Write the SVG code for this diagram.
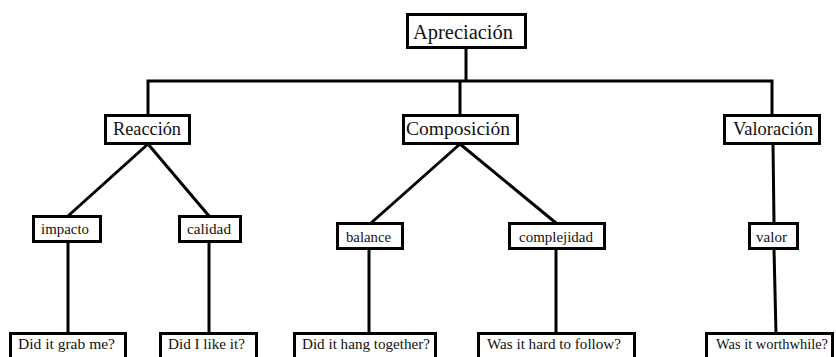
<svg xmlns="http://www.w3.org/2000/svg" width="836" height="357" viewBox="0 0 836 357" font-family="'Liberation Serif', 'DejaVu Serif', serif">
<style>
  .box { fill: #ffffff; stroke: #000000; stroke-width: 3; }
  .edge { fill: none; stroke: #000000; stroke-width: 3; stroke-linejoin: miter; }
  .lbl { font-family: 'Liberation Serif', 'DejaVu Serif', serif; fill: #111111; }
  .t1 { font-size: 20px; }
  .t2 { font-size: 18px; }
  .t3 { font-size: 15px; }
  .t4 { font-size: 15.5px; }
</style>
<rect width="836" height="357" fill="#ffffff"/>
<g id="connectors">
  <path class="edge" d="M466 48 V81"/>
  <path class="edge" d="M148 115 V81 H772 V115"/>
  <path class="edge" d="M460 81 V115"/>
  <path class="edge" d="M148 144 L68 216"/>
  <path class="edge" d="M148 144 L209 216"/>
  <path class="edge" d="M460 144 L371 223"/>
  <path class="edge" d="M460 144 L556 223"/>
  <path class="edge" d="M773 144 L774 223"/>
  <path class="edge" d="M68 242 V334"/>
  <path class="edge" d="M209 242 V334"/>
  <path class="edge" d="M369 249 V334"/>
  <path class="edge" d="M556 249 V334"/>
  <path class="edge" d="M774 249 L776 334"/>
</g>
<g id="apreciacion">
  <rect class="box" x="407.5" y="14.5" width="118" height="33"/>
  <text class="lbl t1" x="413" y="39" textLength="100" lengthAdjust="spacingAndGlyphs">Apreciación</text>
</g>
<g id="reaccion">
  <rect class="box" x="105.5" y="115.5" width="84" height="28"/>
  <text class="lbl t2" x="113" y="135" textLength="68" lengthAdjust="spacingAndGlyphs">Reacción</text>
</g>
<g id="composicion">
  <rect class="box" x="403.5" y="115.5" width="114" height="28"/>
  <text class="lbl t2" x="406" y="135" textLength="104" lengthAdjust="spacingAndGlyphs">Composición</text>
</g>
<g id="valoracion">
  <rect class="box" x="724.5" y="115.5" width="95" height="28"/>
  <text class="lbl t2" x="733" y="135" textLength="80" lengthAdjust="spacingAndGlyphs">Valoración</text>
</g>
<g id="impacto">
  <rect class="box" x="33.5" y="216.5" width="67" height="25"/>
  <text class="lbl t3" x="41" y="234" textLength="48" lengthAdjust="spacingAndGlyphs">impacto</text>
</g>
<g id="calidad">
  <rect class="box" x="179.5" y="216.5" width="61" height="25"/>
  <text class="lbl t3" x="187" y="234" textLength="44" lengthAdjust="spacingAndGlyphs">calidad</text>
</g>
<g id="balance">
  <rect class="box" x="337.5" y="223.5" width="65" height="25"/>
  <text class="lbl t3" x="346" y="242" textLength="45" lengthAdjust="spacingAndGlyphs">balance</text>
</g>
<g id="complejidad">
  <rect class="box" x="509.5" y="223.5" width="95" height="25"/>
  <text class="lbl t3" x="519" y="242" textLength="74" lengthAdjust="spacingAndGlyphs">complejidad</text>
</g>
<g id="valor">
  <rect class="box" x="749.5" y="223.5" width="48" height="25"/>
  <text class="lbl t3" x="756" y="242" textLength="31" lengthAdjust="spacingAndGlyphs">valor</text>
</g>
<g id="q-grab">
  <rect class="box" x="10.5" y="333.5" width="115" height="40"/>
  <text class="lbl t4" x="18" y="349" textLength="97" lengthAdjust="spacingAndGlyphs">Did it grab me?</text>
</g>
<g id="q-like">
  <rect class="box" x="160.5" y="333.5" width="96" height="40"/>
  <text class="lbl t4" x="168" y="349" textLength="77" lengthAdjust="spacingAndGlyphs">Did I like it?</text>
</g>
<g id="q-hang">
  <rect class="box" x="294.5" y="333.5" width="141" height="40"/>
  <text class="lbl t4" x="302" y="349" textLength="128" lengthAdjust="spacingAndGlyphs">Did it hang together?</text>
</g>
<g id="q-hard">
  <rect class="box" x="478.5" y="333.5" width="156" height="40"/>
  <text class="lbl t4" x="487" y="349" textLength="134" lengthAdjust="spacingAndGlyphs">Was it hard to follow?</text>
</g>
<g id="q-worth">
  <rect class="box" x="706.5" y="333.5" width="126" height="40"/>
  <text class="lbl t4" x="716" y="349" textLength="112" lengthAdjust="spacingAndGlyphs">Was it worthwhile?</text>
</g>
</svg>
